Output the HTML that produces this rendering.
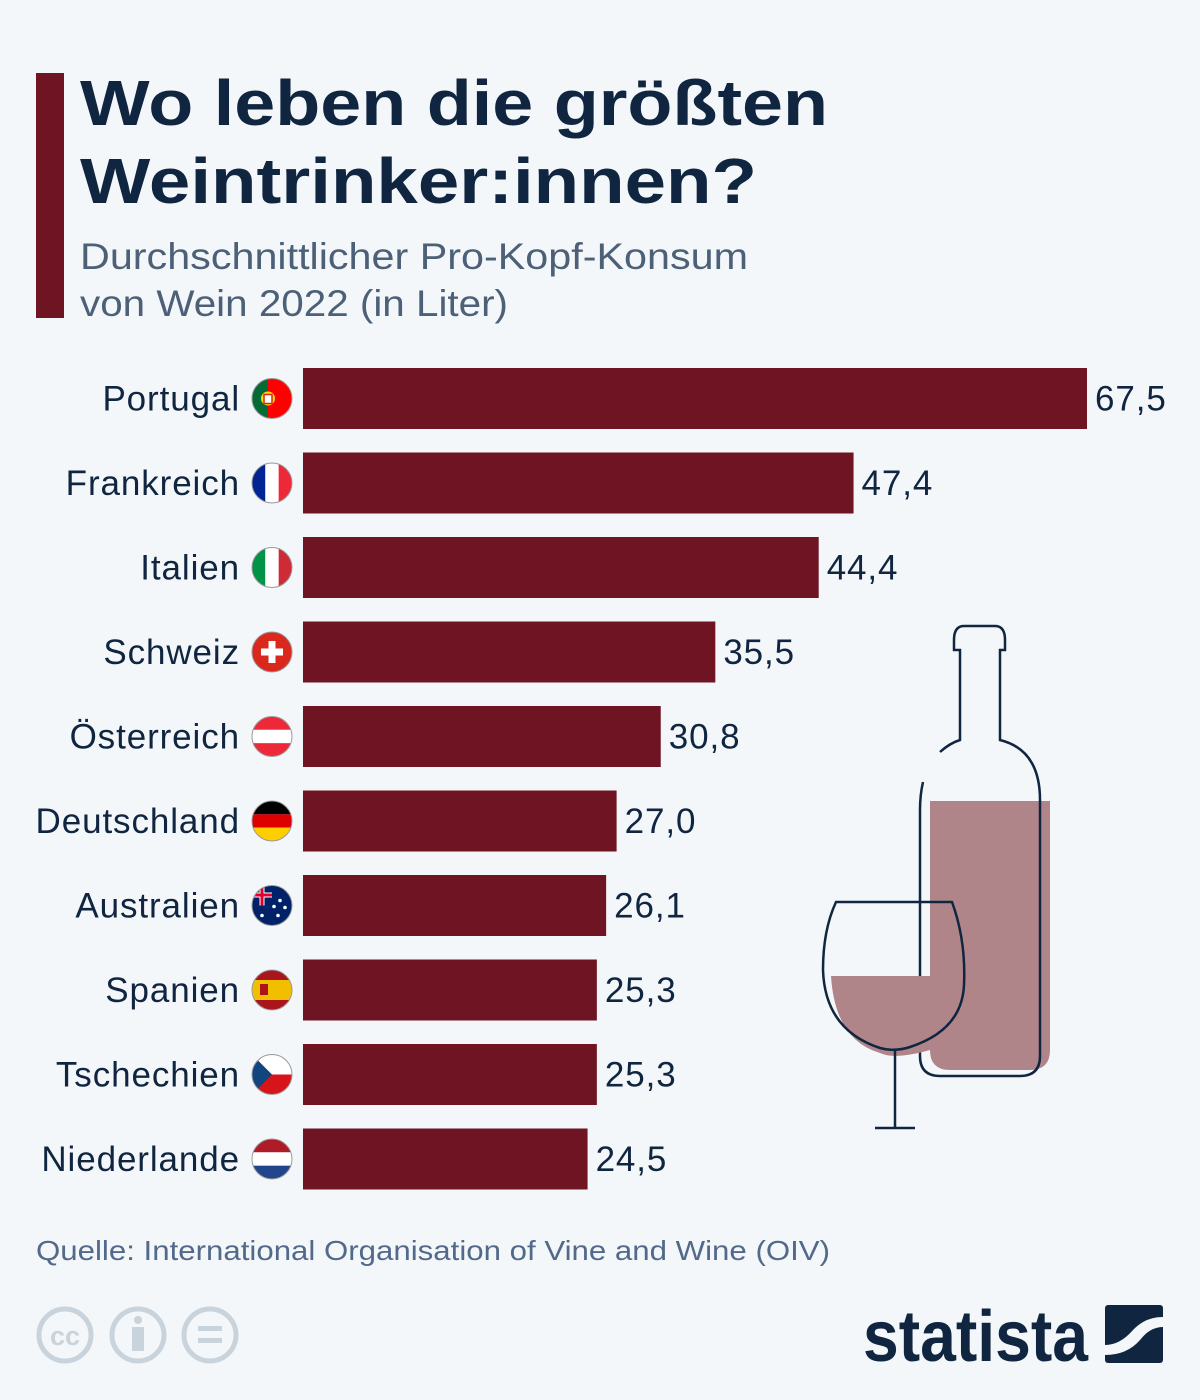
<!DOCTYPE html>
<html><head><meta charset="utf-8"><style>
html,body{margin:0;padding:0;background:#f4f7fa}
svg{display:block}
text{font-family:"Liberation Sans",sans-serif}
</style></head><body>
<svg id="c" width="1200" height="1400" viewBox="0 0 1200 1400">
<rect width="1200" height="1400" fill="#f4f7fa"/>
<rect x="36" y="73" width="28" height="245" fill="#6e1423"/>
<text x="80" y="125" font-size="64" font-weight="bold" fill="#0f2540" textLength="748" lengthAdjust="spacingAndGlyphs">Wo leben die größten</text>
<text x="80" y="203" font-size="64" font-weight="bold" fill="#0f2540" textLength="677" lengthAdjust="spacingAndGlyphs">Weintrinker:innen?</text>
<text x="80" y="269" font-size="37" fill="#4c6078" textLength="668" lengthAdjust="spacingAndGlyphs">Durchschnittlicher Pro-Kopf-Konsum</text>
<text x="80" y="316" font-size="37" fill="#4c6078" textLength="428" lengthAdjust="spacingAndGlyphs">von Wein 2022 (in Liter)</text>
<g id="bars"></g>
<g id="flags"></g>
<g stroke="#0f2540" stroke-width="2.5" fill="none">
  <path d="M930 801 H1050 V1050 Q1050 1070 1030 1070 H950 Q930 1070 930 1050 Z" fill="#b0858a" stroke="none"/>
  <path d="M920 900 V1056 Q920 1076 940 1076 H1020 Q1040 1076 1040 1056 V800 Q1040 750 1000 740 V650 H1005 V640 Q1005 626 995 626 H964 Q954 626 954 640 V650 H960 V740 Q950 743 940 752 M923 782 Q920 795 920 810 V900"/>
  <path d="M831 976 H972 Q972 1030 930 1050 Q895 1060 880 1053 Q835 1040 831 976 Z" fill="#b0858a" stroke="none"/>
  <path d="M836 902 H952 Q966 940 964 985 Q962 1030 910 1047 Q895 1052 880 1048 Q825 1030 823 970 Q823 930 836 902 Z"/>
  <path d="M895 1050 V1128 M875 1128 H915"/>
</g>
<text x="36" y="1260" font-size="28" fill="#52698a" textLength="794" lengthAdjust="spacingAndGlyphs">Quelle: International Organisation of Vine and Wine (OIV)</text>
<g stroke="#c9d3dc" stroke-width="5" fill="none">
  <circle cx="65" cy="1335" r="26"/>
  <text x="65" y="1345" font-size="27" font-weight="bold" fill="#c9d3dc" stroke="none" text-anchor="middle">cc</text>
  <circle cx="138" cy="1335" r="26"/>
  <circle cx="138" cy="1320" r="4" fill="#c9d3dc" stroke="none"/>
  <rect x="132" y="1327" width="12" height="24" fill="#c9d3dc" stroke="none"/>
  <circle cx="210" cy="1335" r="26"/>
  <rect x="198" y="1326" width="24" height="5" fill="#c9d3dc" stroke="none"/>
  <rect x="198" y="1338" width="24" height="5" fill="#c9d3dc" stroke="none"/>
</g>
<g>
  <text x="863" y="1361" font-size="72" font-weight="bold" fill="#0f2540" textLength="225" lengthAdjust="spacingAndGlyphs">statista</text>
  <rect x="1105" y="1305" width="58" height="58" rx="3" fill="#0f2540"/>
  <path d="M1105 1345 Q1120 1345 1133 1330 Q1145 1317 1163 1317 V1327 Q1150 1327 1140 1340 Q1127 1355 1105 1355 Z" fill="#f4f7fa"/>
</g>
</svg>
<script>
const countries=["Portugal","Frankreich","Italien","Schweiz","Österreich","Deutschland","Australien","Spanien","Tschechien","Niederlande"];
const values=[67.5,47.4,44.4,35.5,30.8,27.0,26.1,25.3,25.3,24.5];
const valueLabels=["67,5","47,4","44,4","35,5","30,8","27,0","26,1","25,3","25,3","24,5"];
const flagIds=["pt","fr","it","ch","at","de","au","es","cz","nl"];
const NS="http://www.w3.org/2000/svg";
const x0=303,xScale=v=>v*(784/67.5);
const yTop=i=>368+i*84.5, barH=61;
function mk(t,a,p){const e=document.createElementNS(NS,t);for(const k in a)e.setAttribute(k,a[k]);p.appendChild(e);return e;}
const bars=document.getElementById('bars'),flags=document.getElementById('flags');
const defs=mk('defs',{},document.getElementById('c'));
function flag(id,cx,cy,g){
  const r=20;const cp=mk('clipPath',{id:'cp'+id},defs);mk('circle',{cx,cy,r},cp);
  const f=mk('g',{'clip-path':'url(#cp'+id+')'},g);
  const L=cx-r,T=cy-r,W=2*r;
  const rect=(x,y,w,h,c)=>mk('rect',{x,y,width:w,height:h,fill:c},f);
  const v3=(a,b,c)=>{rect(L,T,W/3,W,a);rect(L+W/3,T,W/3,W,b);rect(L+2*W/3,T,W/3+1,W,c);};
  const h3=(a,b,c)=>{rect(L,T,W,W/3,a);rect(L,T+W/3,W,W/3,b);rect(L,T+2*W/3,W,W/3+1,c);};
  if(id=="pt"){rect(L,T,W*0.4,W,"#046a38");rect(L+W*0.4,T,W*0.6,W,"#ff0000");mk('circle',{cx:L+W*0.4,cy,r:7,fill:"#ffd700"},f);mk('rect',{x:L+W*0.4-4,y:cy-4,width:8,height:9,fill:"#fff",stroke:"#da291c","stroke-width":1.5},f);}
  if(id=="fr")v3("#002395","#fff","#ed2939");
  if(id=="it")v3("#009246","#fff","#ce2b37");
  if(id=="ch"){rect(L,T,W,W,"#da291c");rect(cx-3.5,cy-11,7,22,"#fff");rect(cx-11,cy-3.5,22,7,"#fff");}
  if(id=="at")h3("#ed2939","#fff","#ed2939");
  if(id=="de")h3("#000","#dd0000","#ffce00");
  if(id=="au"){rect(L,T,W,W,"#012169");rect(L,T+7,W/2,5,"#fff");rect(L+W/4-2.5,T,5,W/2,"#fff");rect(L,T+8,W/2,3,"#e4002b");rect(L+W/4-1.5,T,3,W/2,"#e4002b");
    [[cx+8,cy-5],[cx+13,cy+2],[cx+6,cy+10],[cx-10,cy+10],[cx+2,cy+1]].forEach(s=>mk('circle',{cx:s[0],cy:s[1],r:1.8,fill:"#fff"},f));}
  if(id=="es"){rect(L,T,W,W/4,"#aa151b");rect(L,T+W/4,W,W/2,"#f1bf00");rect(L,T+3*W/4,W,W/4+1,"#aa151b");rect(L+8,cy-6,8,11,"#ad1519");}
  if(id=="cz"){rect(L,T,W,W/2,"#fff");rect(L,cy,W,W/2,"#d7141a");mk('polygon',{points:`${L},${T} ${cx},${cy} ${L},${T+W}`,fill:"#11457e"},f);}
  if(id=="nl")h3("#ae1c28","#fff","#21468b");
  mk('circle',{cx,cy,r,fill:"none",stroke:"#999","stroke-width":1},g);
}
countries.forEach((c,i)=>{
  const y=yTop(i),cy=y+barH/2;
  const b=mk('rect',{x:x0,y,width:xScale(values[i]),height:barH,fill:"#6e1423"},bars);
  
  
  const l=mk('text',{x:240,y:cy+12,'font-size':35,'letter-spacing':'0.9',fill:"#0f2540",'text-anchor':'end'},bars);l.textContent=c;
  
  
  const v=mk('text',{x:x0+xScale(values[i])+8,y:cy+12,'font-size':35,'letter-spacing':'0.9',fill:"#0f2540"},bars);v.textContent=valueLabels[i];
  
  
  const g=mk('g',{},flags);
  
  
  flag(flagIds[i],272,cy,g);
});
</script>
</body></html>
